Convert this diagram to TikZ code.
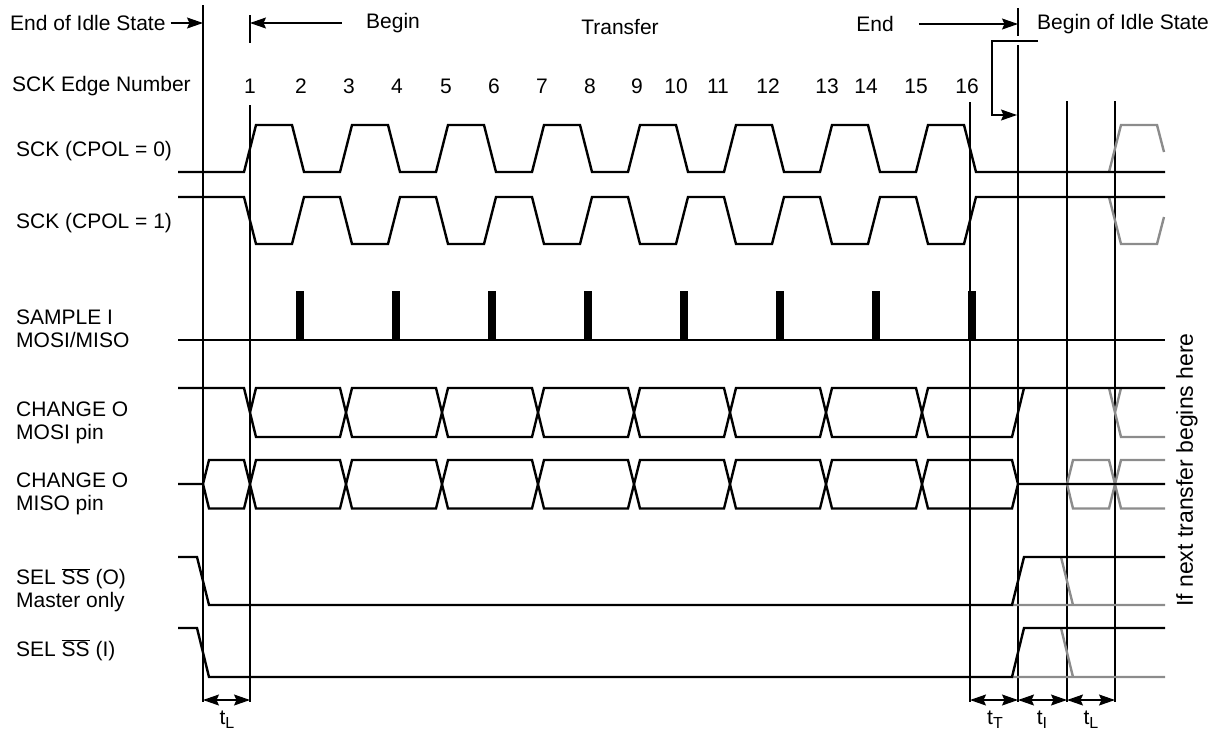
\documentclass[tikz,border=0pt]{standalone}
\usepackage{fontspec}
\setmainfont{Liberation Sans}
\usepackage{tikz}
\usetikzlibrary{arrows.meta}
\definecolor{ink}{HTML}{000000}
\definecolor{ghost}{HTML}{8C8C8C}
\newcommand{\tsub}[1]{t\raisebox{-0.35ex}{\fontsize{16}{16}\selectfont #1}}
\newcommand{\ssbar}{$\overline{\mbox{SS}}$}

\begin{document}
\begin{tikzpicture}[x=1pt,y=-1pt,
  sig/.style={ink,line width=2.4pt},
  ghostsig/.style={ghost,line width=2.4pt},
  rule/.style={ink,line width=1.3pt},
  lbl/.style={font=\fontsize{21}{22.5}\selectfont,inner sep=0pt,align=left},
  tip/.style={-{Stealth[length=16pt,width=11pt,inset=2.5pt]},line width=1.2pt},
  dim/.style={{Stealth[length=16pt,width=11pt,inset=2.5pt]}-{Stealth[length=16pt,width=11pt,inset=2.5pt]},line width=1.2pt}]
  \useasboundingbox (0,0) rectangle (1216,732);
  % Time marks
  \coordinate (topA) at (203,5);    \coordinate (botA) at (203,702);
  \coordinate (topB) at (250,15);   \coordinate (botB) at (250,702);
  \coordinate (topC) at (970,102);  \coordinate (botC) at (970,702);
  \coordinate (topD) at (1018,8);   \coordinate (botD) at (1018,702);
  \coordinate (topE) at (1067,101); \coordinate (botE) at (1067,702);
  \coordinate (topF) at (1115,101); \coordinate (botF) at (1115,702);
  \draw[rule] (topA) -- (botA);
  \draw[rule] (topB) -- (250,43) (250,105) -- (botB);
  \draw[rule] (topC) -- (botC);
  \draw[rule] (topD) -- (1018,36) (1018,45) -- (botD);
  \draw[rule] (topE) -- (botE);
  \draw[rule] (topF) -- (botF);
  % Header
  \node[lbl,anchor=west] (idleend) at (10,23) {End of Idle State};
  \draw[tip] ([xshift=5pt]idleend.east) -- (topA|-idleend);
  \node[lbl] (begin) at (393,23) {Begin};
  \draw[tip] ([xshift=-24pt]begin.west) -- (topB|-begin);
  \node[lbl] (transfer) at (620,27) {Transfer};
  \node[lbl] (endt) at (875,24) {End};
  \draw[tip] ([xshift=25pt]endt.east) -- (topD|-endt);
  \node[lbl,anchor=west] (idlebegin) at (1037,24) {Begin of Idle State};
  \coordinate (brk) at (1038,41);
  \coordinate (brkin) at (1017,115);
  \draw[tip] (brk) -- (992,41) -- (992,115) -- (brkin);
  \node[lbl,anchor=west] (edgenum) at (12,86) {SCK Edge Number};
  \foreach \n/\xn in {1/250,2/301,3/349,4/397,5/446,6/494,7/542,8/590,
                      9/637,10/676,11/718,12/768,13/827,14/866,15/916,16/967}
    \node[lbl] (edge\n) at (\xn,86) {\n};
  % Signal names
  \node[lbl,anchor=west] (sck0) at (16,151) {SCK (CPOL = 0)};
  \node[lbl,anchor=west] (sck1) at (16,223) {SCK (CPOL = 1)};
  \node[lbl,anchor=west] (sample) at (16,329) {SAMPLE I\\MOSI/MISO};
  \node[lbl,anchor=west] (mosi) at (16,423) {CHANGE O\\MOSI pin};
  \node[lbl,anchor=west] (miso) at (16,494) {CHANGE O\\MISO pin};
  \node[lbl,anchor=west] (sso) at (16,590) {SEL \ssbar{} (O)\\Master only};
  \node[lbl,anchor=west] (ssi) at (16,650) {SEL \ssbar{} (I)};
  \node[lbl,rotate=90,font=\fontsize{23}{23}\selectfont] (nexttr) at (1187,470)
    {If next transfer begins here};
  % Next transfer (grey)
  \draw[ghostsig] (1109,172) -- (1121,125) -- (1157,125) -- (1164,152);
  \draw[ghostsig] (1109,197) -- (1121,244) -- (1157,244) -- (1164,217);
  \draw[ghostsig] (1109,388) -- (1121,437) -- (1165,437) (1115,412.5) -- (1121,388);
  \draw[ghostsig] (1067,484) -- (1073,460) -- (1109,460) -- (1121,508.5) -- (1165,508.5);
  \draw[ghostsig] (1067,484) -- (1073,508.5) -- (1109,508.5) -- (1121,460) -- (1165,460);
  \draw[ghostsig] (1012,605) -- (1165,605) (1061,557) -- (1073,605);
  \draw[ghostsig] (1012,677) -- (1165,677) (1061,628) -- (1073,677);
  % SCK
  \draw[sig] (178,172) foreach \p in {0,...,7}{ -- ({244+96*\p},172)
    -- ({256+96*\p},125) -- ({292+96*\p},125) -- ({304+96*\p},172)} -- (1165,172);
  \draw[sig] (178,197) foreach \p in {0,...,7}{ -- ({244+96*\p},197)
    -- ({256+96*\p},244) -- ({292+96*\p},244) -- ({304+96*\p},197)} -- (1165,197);
  % Sample strobes
  \draw[sig] (178,340) -- (1165,340);
  \foreach \k in {2,4,...,16}{
    \pgfmathsetmacro{\xe}{250+48*(\k-1)}
    \fill[ink] (\xe-2.5,291) rectangle (\xe+5.5,340);
  }
  % MOSI
  \draw[sig] (178,388) -- (244,388) -- (256,437)
    foreach \p in {0,1,2}{ -- ({340+192*\p},437) -- ({352+192*\p},388)
    -- ({436+192*\p},388) -- ({448+192*\p},437)}
    -- (916,437) -- (928,388) -- (1165,388);
  \draw[sig] (250,412.5) -- (256,388)
    foreach \p in {0,1,2}{ -- ({340+192*\p},388) -- ({352+192*\p},437)
    -- ({436+192*\p},437) -- ({448+192*\p},388)}
    -- (916,388) -- (928,437) -- (1012,437) -- (1024,388);
  % MISO
  \draw[sig] (178,484) -- (203,484) -- (209,460)
    foreach \p in {0,...,3}{ -- ({244+192*\p},460) -- ({256+192*\p},508.5)
    -- ({340+192*\p},508.5) -- ({352+192*\p},460)}
    -- (1012,460) -- (1018,484) -- (1165,484);
  \draw[sig] (203,484) -- (209,508.5)
    foreach \p in {0,...,3}{ -- ({244+192*\p},508.5) -- ({256+192*\p},460)
    -- ({340+192*\p},460) -- ({352+192*\p},508.5)}
    -- (1012,508.5) -- (1018,484);
  % Slave select
  \draw[sig] (178,557) -- (197,557) -- (209,605) -- (1012,605) -- (1024,557) -- (1165,557);
  \draw[sig] (178,628) -- (197,628) -- (209,677) -- (1012,677) -- (1024,628) -- (1165,628);
  % Timing
  \coordinate (dA) at (203,700); \coordinate (dB) at (250,700);
  \coordinate (dC) at (970,700); \coordinate (dD) at (1018,700);
  \coordinate (dE) at (1067,700); \coordinate (dF) at (1115,700);
  \draw[dim] (dA) -- (dB);
  \draw[dim] (dC) -- (dD);
  \draw[dim] (dD) -- (dE);
  \draw[dim] (dE) -- (dF);
  \node[lbl] (tlead) at (227,720) {\tsub{L}};
  \node[lbl] (ttrail) at (995,720) {\tsub{T}};
  \node[lbl] (tidle) at (1042,720) {\tsub{I}};
  \node[lbl] (tlead2) at (1091,720) {\tsub{L}};
\end{tikzpicture}
\end{document}
